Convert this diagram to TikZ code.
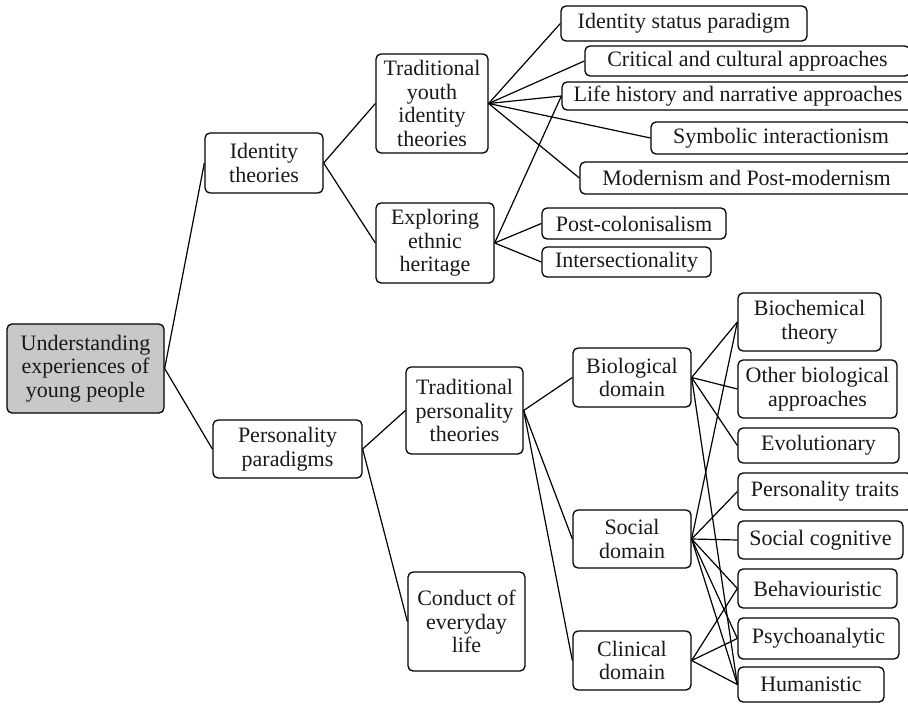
\documentclass[tikz,border=0pt]{standalone}
\usepackage{fontspec}
\setmainfont{Liberation Serif}
\definecolor{rootgrey}{RGB}{200,200,200}
\tikzset{
  topic/.style={draw, line width=1.3pt, rounded corners=5pt, inner sep=1pt, align=center,
    font=\fontsize{22}{23.5}\selectfont, text=black!90},
  link/.style={line width=1.2pt}
}
% \topic[opts]{name}{x1}{y1}{x2}{y2}{text}: box from (x1,y1) to (x2,y2), y counted downwards
\newcommand{\topic}[7][]{\node[topic, #1, minimum width={#5-#3}, minimum height={#6-#4}] (#2) at ({(#3+#5)/2},{(#4+#6)/2}) {#7};}

\begin{document}
\begin{tikzpicture}[x=1pt, y=-1pt]
  \useasboundingbox (0,0) rectangle (908,704);
  % root and first level
  \topic[fill=rootgrey]{root}{7}{324}{164}{413}{Understanding\\experiences of\\young people}
  \topic{idth}{205}{133}{323}{193}{Identity\\theories}
  \topic{perpar}{213}{420}{362}{478}{Personality\\paradigms}
  % second level
  \topic{tyit}{376}{54}{488}{153}{Traditional\\youth\\identity\\theories}
  \topic{eeh}{376}{203}{494}{283}{Exploring\\ethnic\\heritage}
  \topic{tpt}{406}{367}{523}{454}{Traditional\\personality\\theories}
  \topic{coel}{408}{572}{525}{671}{Conduct of\\everyday\\life}
  % domains
  \topic{bio}{573}{348}{691}{407}{Biological\\domain}
  \topic{soc}{573}{510}{691}{568}{Social\\domain}
  \topic{clin}{573}{631}{691}{690}{Clinical\\domain}
  % identity leaves (right edges run off the page)
  \topic{isp}{561}{6}{807}{41}{Identity status paradigm}
  \topic{cca}{585}{46}{910}{76}{Critical and cultural approaches}
  \topic{lhna}{562}{82}{914}{110}{Life history and narrative approaches}
  \topic{si}{651}{122}{911}{154}{Symbolic interactionism}
  \topic{mpm}{580}{162}{913}{194}{Modernism and Post-modernism}
  \topic{pc}{542}{208}{726}{239}{Post-colonisalism}
  \topic{inter}{542}{247}{711}{277}{Intersectionality}
  % personality leaves
  \topic{biochem}{738}{293}{881}{351}{Biochemical\\theory}
  \topic{obio}{738}{360}{897}{418}{Other biological\\approaches}
  \topic{evo}{738}{428}{899}{463}{Evolutionary}
  \topic{ptraits}{738}{473}{912}{510}{Personality traits}
  \topic{socog}{738}{521}{903}{559}{Social cognitive}
  \topic{behav}{738}{569}{897}{608}{Behaviouristic}
  \topic{psycho}{738}{618}{899}{659}{Psychoanalytic}
  \topic{human}{738}{667}{884}{702}{Humanistic}
  % connectors
  \foreach \a/\b in {root/idth, root/perpar, idth/tyit, idth/eeh, perpar/tpt, perpar/coel,
      tyit/isp, tyit/cca, tyit/lhna, tyit/si, tyit/mpm, eeh/lhna, eeh/pc, eeh/inter,
      tpt/bio, tpt/soc, tpt/clin,
      bio/biochem, bio/obio, bio/evo, bio/human,
      soc/biochem, soc/ptraits, soc/socog, soc/behav, soc/psycho, soc/human,
      clin/behav, clin/psycho, clin/human}{
    \draw[link] (\a.east) -- (\b.west);}
\end{tikzpicture}
\end{document}
